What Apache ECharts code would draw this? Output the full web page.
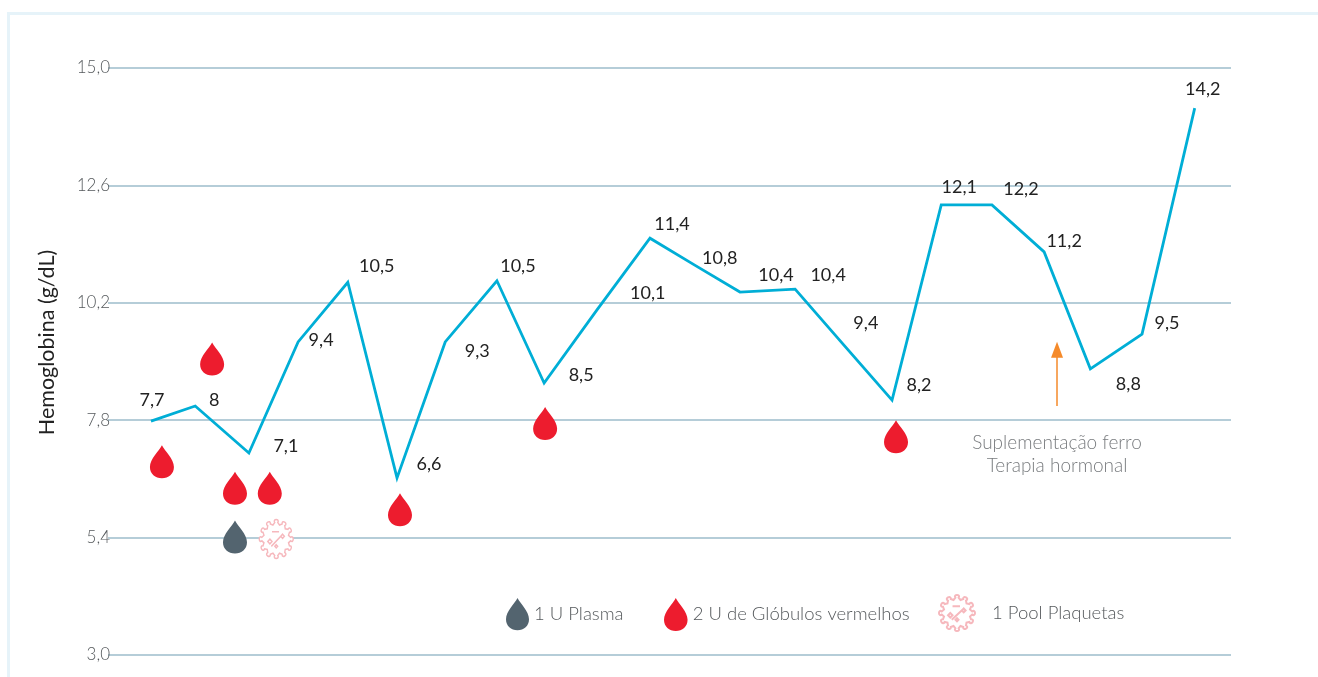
<!DOCTYPE html>
<html>
<head>
<meta charset="utf-8">
<script src="https://cdn.jsdelivr.net/npm/echarts@6/dist/echarts.min.js"></script>
<style>
html, body { margin: 0; padding: 0; background: #fff; overflow: hidden; }
#frame { position: absolute; left: 7px; top: 12px; width: 1400px; height: 800px; border: 3px solid #e6f3f9; }
#chart { position: absolute; left: 0; top: 0; width: 1318px; height: 677px; }
</style>
</head>
<body>
<div id="frame"></div>
<div id="chart"></div>
<script>
// time position of each exam (evenly spaced exams, but the drawn line is a little uneven)
var examPos = [0, 0.89, 1.97, 2.96, 3.96, 4.95, 5.92, 6.96, 7.91, 8.97, 10.04, 10.94, 11.85, 12.96, 13.92, 14.91, 15.9, 16.92, 17.97, 18.9, 19.94, 21]
var hemoglobin = [7.78, 8.09, 7.13, 9.4, 10.62, 6.62, 9.4, 10.65, 8.56, 10.05, 11.52, 10.97, 10.42, 10.48, 9.36, 8.21, 12.2, 12.2, 11.24, 8.85, 9.56, 14.18]
var examLabels = ['7,7', '8', '7,1', '9,4', '10,5', '6,6', '9,3', '10,5', '8,5', '10,1', '11,4', '10,8', '10,4', '10,4', '9,4', '8,2', '12,1', '12,2', '11,2', '8,8', '9,5', '14,2']

var yTicks = [3, 5.4, 7.8, 10.2, 12.6, 15]

var redCellDrops = [[1.23, 9.05], [0.22, 6.95], [1.69, 6.41], [2.39, 6.41], [5.01, 5.97], [7.93, 7.73], [14.99, 7.46]]
var plasmaDrops = [[1.69, 5.41]]
var plateletPools = [[2.52, 5.37]]

var arrowFrom = [18.23, 8.09]
var arrowTo = [18.23, 9.24]
var noteAt = [18.23, 7.11]
var noteText = 'Suplementação ferro\nTerapia hormonal'

var plasmaName = '1 U Plasma'
var redCellName = '2 U de Glóbulos vermelhos'
var plateletName = '1 Pool Plaquetas'

var chart = echarts.init(document.getElementById('chart'))

var dropPath = 'path://M50 0C62 24 100 58 100 92C100 121 78 140 50 140C22 140 0 121 0 92C0 58 38 24 50 0Z'

function polar(r, a) {
	return (50 + r * Math.cos(a)).toFixed(1) + ' ' + (50 + r * Math.sin(a)).toFixed(1)
}

// round body with short stubby spikes
function virusPath() {
	var n = 12, step = Math.PI * 2 / n, d = 'M' + polar(36, -0.5 * step), i, a
	for (i = 0; i < n; i++) {
		a = i * step
		d += 'L' + polar(41, a - 0.2 * step)
		d += 'C' + polar(52, a - 0.42 * step) + ' ' + polar(52, a + 0.42 * step) + ' ' + polar(41, a + 0.2 * step)
		d += 'L' + polar(36, a + 0.5 * step)
	}
	// little marks inside
	d += 'Z M38 32L58 32Z M36 68L64 42Z M68 38L73 43L68 48L63 43Z M32 50L38 56L32 62L26 56Z M50 64L54 68L50 72L46 68Z'
	return 'path://' + d
}
var virus = virusPath()

// label position relative to the point
var labelOffsets = [[1, -21], [19, -6], [37, -7], [23, -2], [29, -16], [32, -14], [32, 9], [21, -15], [37, -8], [51, -17], [22, -14],
	[25, -7], [36, -17], [33, -14], [23, -21], [27, -15], [18, -18], [29, -16], [20, -11], [38, 15], [25, -11], [8, -19]]

var lineData = examPos.map(function (p, i) {
	return { value: [p, hemoglobin[i]], name: examLabels[i], label: { offset: labelOffsets[i] } }
})

var grayColor = '#55595c'

var option = {
	animation: false,
	backgroundColor: 'transparent',
	grid: { left: 108, right: 87, top: 68, bottom: 22 },
	xAxis: { type: 'value', min: -0.865, max: 21.73, show: false },
	yAxis: {
		type: 'value', min: 3, max: 15, interval: 2.4,
		name: 'Hemoglobina (g/dL)',
		nameLocation: 'middle',
		nameGap: 50,
		nameTextStyle: { fontFamily: 'Lato', fontSize: 21.5, color: '#222', padding: [0, 0, 0, 38] },
		axisLine: { show: false },
		axisTick: { show: false },
		splitLine: { lineStyle: { color: '#9dbccb', width: 1.5 } },
		axisLabel: {
			margin: -2,
			fontFamily: 'Lato', fontWeight: 300, fontSize: 17, color: grayColor,
			padding: [0, 0, 9, 0],
			customValues: yTicks,
			formatter: function (v) { return v.toFixed(1).replace('.', ',') }
		}
	},
	legend: [
		{ left: 506, top: 598, padding: 0, itemWidth: 23, itemHeight: 33, icon: dropPath, data: [plasmaName], selectedMode: false,
			textStyle: { fontFamily: 'Lato', fontWeight: 300, fontSize: 18.5, color: grayColor, padding: [4, 0, 0, 0] } },
		{ left: 664, top: 598, padding: 0, itemWidth: 24, itemHeight: 33, icon: dropPath, data: [redCellName], selectedMode: false,
			textStyle: { fontFamily: 'Lato', fontWeight: 300, fontSize: 18.5, color: grayColor, padding: [4, 0, 0, 0] } },
		{ left: 938, top: 594, padding: 0, itemWidth: 36, itemHeight: 39, icon: virus, data: [plateletName], selectedMode: false,
			textStyle: { fontFamily: 'Lato', fontWeight: 300, fontSize: 18.5, color: grayColor, padding: [4, 0, 0, 12] } }
	],
	series: [
		{
			type: 'line',
			data: lineData,
			showSymbol: true,
			showAllSymbol: true,
			symbolSize: 0,
			lineStyle: { color: '#00aed6', width: 2.8, join: 'miter' },
			itemStyle: { color: '#00aed6' },
			label: { show: true, position: 'inside', formatter: '{b}', fontFamily: 'Lato', fontSize: 18, color: '#222' }
		},
		{
			name: redCellName, type: 'scatter', data: redCellDrops,
			symbol: dropPath, symbolSize: [24, 33], itemStyle: { color: '#ed1c2e', opacity: 1 }
		},
		{
			name: plasmaName, type: 'scatter', data: plasmaDrops,
			symbol: dropPath, symbolSize: [24, 33], itemStyle: { color: '#53646f', opacity: 1 }
		},
		{
			name: plateletName, type: 'scatter', data: plateletPools,
			symbol: virus, symbolSize: [34, 39],
			itemStyle: { color: '#fff', borderColor: '#f6b8bd', borderWidth: 1.5, opacity: 1 }
		},
		{
			type: 'line', data: [], silent: true,
			markLine: {
				silent: true,
				symbol: ['none', 'triangle'],
				symbolSize: [12, 16],
				label: { show: false },
				lineStyle: { color: '#f58a2a', width: 1.5, type: 'solid' },
				data: [[{ coord: arrowFrom }, { coord: arrowTo }]]
			}
		},
		{
			type: 'scatter', data: [noteAt], symbolSize: 0, silent: true,
			label: {
				show: true, position: 'inside', formatter: noteText, align: 'center', lineHeight: 23,
				fontFamily: 'Lato', fontWeight: 300, fontSize: 19, color: grayColor
			}
		}
	]
}
chart.setOption(option)
</script>
</body>
</html>
